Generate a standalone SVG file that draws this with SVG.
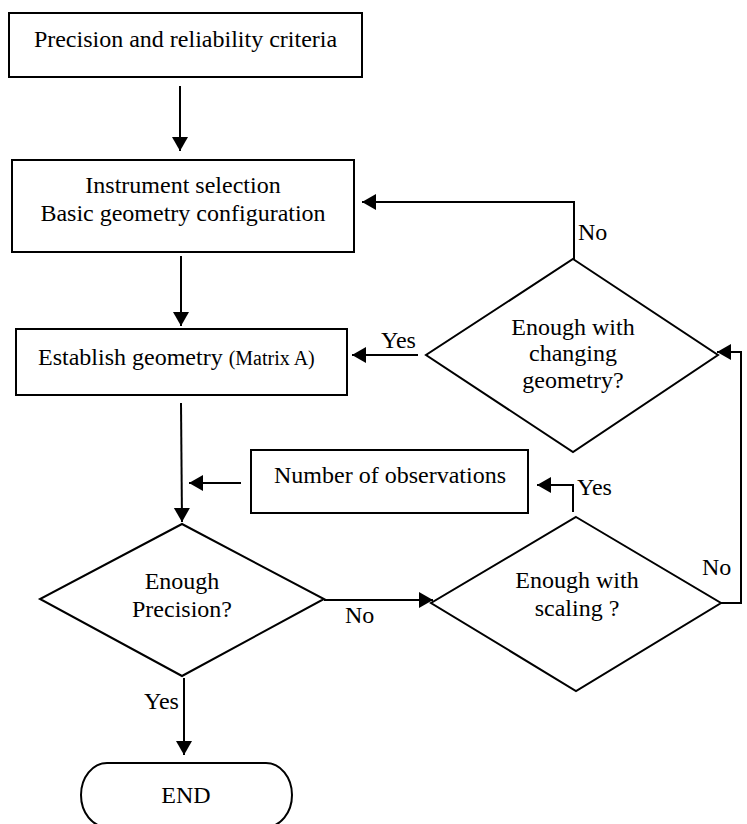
<svg xmlns="http://www.w3.org/2000/svg" width="747" height="824" viewBox="0 0 747 824">
<defs>
<style>
.box{fill:#fff;stroke:#000;stroke-width:2}
.ln{fill:none;stroke:#000;stroke-width:2}
text{font-family:"Liberation Serif","Times New Roman",serif;font-size:24px;fill:#000}
.c{text-anchor:middle}
</style>
<marker id="ah" markerUnits="userSpaceOnUse" markerWidth="16" markerHeight="18" refX="14" refY="8" orient="auto">
<path d="M0,0 L14,8 L0,16 z" fill="#000"/>
</marker>
</defs>
<rect width="747" height="824" fill="#fff"/>
<g id="connectors">
<path class="ln" d="M180,86 V151" marker-end="url(#ah)"/>
<path class="ln" d="M574,259 V202 H362" marker-end="url(#ah)"/>
<path class="ln" d="M181,256 V326" marker-end="url(#ah)"/>
<path class="ln" d="M418,355 H352" marker-end="url(#ah)"/>
<path class="ln" d="M181,403 L182,522" marker-end="url(#ah)"/>
<path class="ln" d="M241,483 H189" marker-end="url(#ah)"/>
<path class="ln" d="M573,512 V485 H537" marker-end="url(#ah)"/>
<path class="ln" d="M324,600 H433" marker-end="url(#ah)"/>
<path class="ln" d="M721,603 H741 V352 H717" marker-end="url(#ah)"/>
<path class="ln" d="M184,678 V755" marker-end="url(#ah)"/>
<text x="578" y="240">No</text>
<text x="381" y="348">Yes</text>
<text x="577" y="495">Yes</text>
<text x="345" y="623">No</text>
<text x="702" y="575">No</text>
<text x="144" y="709">Yes</text>
</g>
<g id="criteria">
<rect class="box" x="9" y="13" width="353" height="64"/>
<text class="c" x="185.5" y="47">Precision and reliability criteria</text>
</g>
<g id="instrument">
<rect class="box" x="12" y="160" width="342" height="92"/>
<text class="c" x="183" y="193">Instrument selection</text>
<text class="c" x="183" y="221">Basic geometry configuration</text>
</g>
<g id="establish">
<rect class="box" x="16" y="329" width="331" height="66"/>
<text x="38" y="365">Establish geometry <tspan font-size="20">(Matrix A)</tspan></text>
</g>
<g id="changing">
<polygon class="box" points="573,259 718,355 573,452 426,355"/>
<text class="c" x="573" y="335">Enough with</text>
<text class="c" x="573" y="361">changing</text>
<text class="c" x="573" y="388">geometry?</text>
</g>
<g id="observations">
<rect class="box" x="251" y="450" width="277" height="63"/>
<text class="c" x="390" y="483">Number of observations</text>
</g>
<g id="precision">
<polygon class="box" points="182,524 324,599 182,676 40,599"/>
<text class="c" x="182" y="589">Enough</text>
<text class="c" x="182" y="617">Precision?</text>
</g>
<g id="scaling">
<polygon class="box" points="576,517 721,603 576,691 431,603"/>
<text class="c" x="577" y="588">Enough with</text>
<text class="c" x="577" y="616">scaling ?</text>
</g>
<g id="end">
<rect class="box" x="81" y="763" width="211" height="64" rx="26" ry="32"/>
<text class="c" x="186" y="803">END</text>
</g>
</svg>
